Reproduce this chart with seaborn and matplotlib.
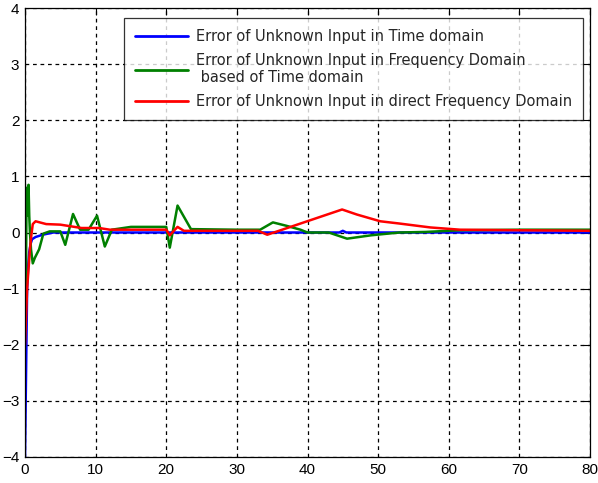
import matplotlib
matplotlib.use("Agg")
import matplotlib.pyplot as plt
import seaborn as sns
import pandas as pd

# Time samples and error signals for the three estimators
t_time = [0.0, 0.1, 0.2, 0.3, 0.45, 0.6, 0.8, 1.0, 1.5, 2.5, 4.0, 10.0, 20.0, 30.0, 40.0,
          44.5, 45.0, 45.5, 50.0, 60.0, 70.0, 80.0]
err_time = [-4.0, -3.0, -2.0, -1.0, -0.6, -0.35, -0.2, -0.12, -0.08, -0.04, 0.0, 0.0, 0.0, 0.0, 0.0,
            0.0, 0.03, 0.0, 0.0, 0.0, 0.0, 0.0]

t_freq_td = [0.0, 0.1, 0.2, 0.3, 0.4, 0.5, 0.6, 0.7, 0.85, 1.1, 1.4, 2.0, 2.6, 3.5, 5.0, 5.7,
             6.8, 7.8, 9.0, 10.2, 11.3, 12.3, 15.0, 20.0, 20.5, 21.6, 23.5, 30.0, 33.3, 35.1,
             37.0, 39.0, 40.0, 43.0, 45.6, 49.0, 53.0, 56.7, 61.6, 70.0, 80.0]
err_freq_td = [0.0, -1.5, 0.3, 0.8, 0.3, 0.85, 0.3, 0.0, -0.3, -0.55, -0.45, -0.3, -0.02, 0.02, 0.02, -0.22,
               0.33, 0.05, 0.05, 0.3, -0.25, 0.05, 0.1, 0.1, -0.27, 0.48, 0.06, 0.05, 0.05, 0.18,
               0.12, 0.05, 0.0, 0.0, -0.11, -0.05, 0.0, 0.01, 0.04, 0.05, 0.05]

t_freq_direct = [0.0, 0.15, 0.3, 0.5, 0.7, 0.9, 1.1, 1.5, 3.0, 5.0, 8.0, 10.5, 12.0, 20.0, 20.5,
                 21.0, 21.6, 22.5, 33.0, 34.3, 44.9, 47.0, 50.3, 53.0, 57.4, 61.6, 70.0, 80.0]
err_freq_direct = [-2.0, -1.5, -1.0, -0.65, -0.3, -0.05, 0.15, 0.2, 0.15, 0.14, 0.08, 0.08, 0.05, 0.05, -0.05,
                   0.02, 0.1, 0.03, 0.03, -0.04, 0.41, 0.32, 0.2, 0.16, 0.09, 0.05, 0.04, 0.03]

labels = [
    "Error of Unknown Input in Time domain",
    "Error of Unknown Input in Frequency Domain\n based of Time domain",
    "Error of Unknown Input in direct Frequency Domain",
]
colors = ["#0000ff", "#008000", "#ff0000"]

x_ticks = [0, 10, 20, 30, 40, 50, 60, 70, 80]
y_ticks = [-4, -3, -2, -1, 0, 1, 2, 3, 4]

frames = []
for t, e, lab in [(t_time, err_time, labels[0]),
                  (t_freq_td, err_freq_td, labels[1]),
                  (t_freq_direct, err_freq_direct, labels[2])]:
    frames.append(pd.DataFrame({"t": t, "err": e, "series": lab}))
df = pd.concat(frames, ignore_index=True)

sns.set_style("white")
plt.rcParams["font.family"] = ["Liberation Sans", "DejaVu Sans"]

fig = plt.figure(figsize=(5.98, 4.83), dpi=100)
ax = fig.add_axes([25 / 598, 1 - 457 / 483, 565 / 598, 449 / 483])

sns.lineplot(data=df, x="t", y="err", hue="series", hue_order=labels,
             palette=colors, linewidth=1.8, ax=ax, sort=False, estimator=None)

ax.set_xlim(0, 80)
ax.set_ylim(-4, 4)
ax.set_xticks(x_ticks)
ax.set_yticks(y_ticks)
ax.set_xlabel("")
ax.set_ylabel("")
ax.grid(True, color="black", linestyle=(0, (3, 3)), linewidth=0.9)
ax.tick_params(direction="in", length=5, width=0.8, top=True, right=True,
               labelsize=11, colors="black", pad=4)
for s in ax.spines.values():
    s.set_color("black")
    s.set_linewidth(0.9)

leg = ax.legend(loc="upper right",
                bbox_to_anchor=((583 - 25) / 565, 1 - (18 - 8) / 449),
                bbox_transform=ax.transAxes,
                frameon=True, fancybox=False, edgecolor="black",
                prop={"family": "DejaVu Sans", "size": 10.5},
                handlelength=3.6, handletextpad=0.55, borderpad=0.75, labelspacing=0.62,
                borderaxespad=0.0)
leg.get_frame().set_linewidth(0.9)
for h in leg.get_lines():
    h.set_linewidth(2.0)

fig.savefig("out.png", dpi=100)
